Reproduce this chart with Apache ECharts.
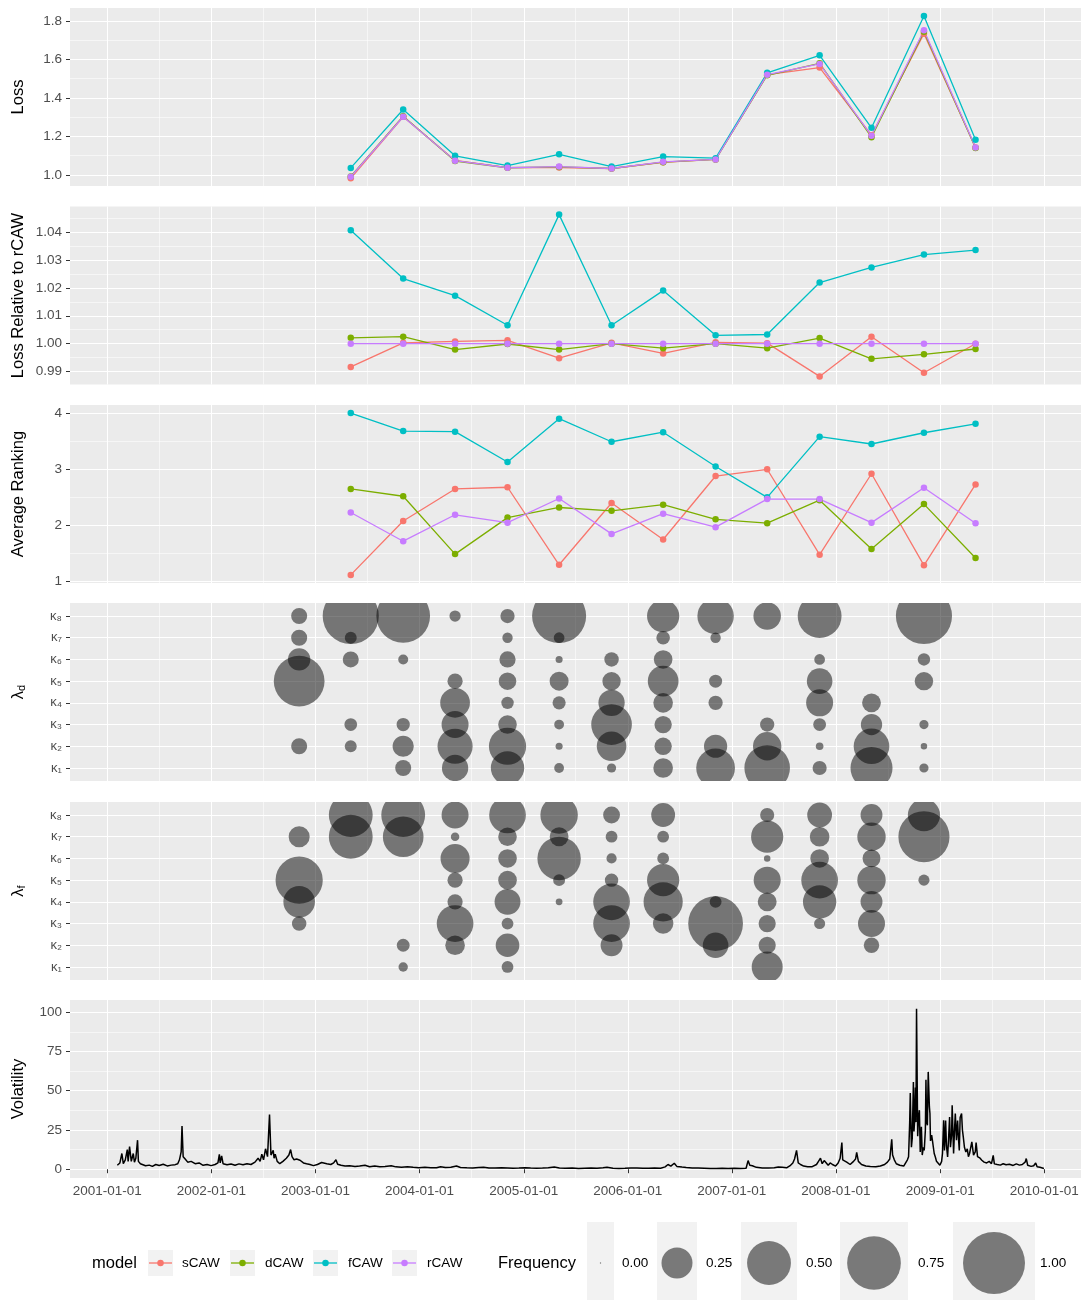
<!DOCTYPE html>
<html>
<head>
<meta charset="utf-8">
<script src="https://cdn.jsdelivr.net/npm/echarts@6.0.0/dist/echarts.min.js"></script>
<style>
html,body{margin:0;padding:0;background:#fff;}
#chart{width:1082px;height:1300px;}
</style>
</head>
<body>
<div id="chart"></div>
<script>
// ---------- data ----------
const models = ['sCAW', 'dCAW', 'fCAW', 'rCAW'];
const modelColors = ['#F8766D', '#7CAE00', '#00BFC4', '#C77CFF'];

// evaluation dates (loss / ranking panels)
const evalDates = ['2003-05-05','2003-11-05','2004-05-05','2004-11-05','2005-05-05','2005-11-05',
  '2006-05-05','2006-11-05','2007-05-05','2007-11-05','2008-05-05','2008-11-05','2009-05-05'];

const lossS = [0.982,1.302,1.075,1.038,1.038,1.033,1.065,1.080,1.521,1.558,1.206,1.734,1.142];
const lossD = [0.992,1.305,1.072,1.037,1.041,1.033,1.066,1.080,1.518,1.580,1.196,1.745,1.140];
const lossF = [1.036,1.340,1.099,1.048,1.107,1.043,1.095,1.087,1.531,1.622,1.245,1.826,1.182];
const lossR = [0.990,1.302,1.074,1.037,1.043,1.033,1.068,1.080,1.521,1.577,1.203,1.752,1.142];

const relS = [0.9917,1.0003,1.0008,1.0012,0.9948,1.0003,0.9965,1.0005,1.0002,0.9883,1.0025,0.9896,1.0000];
const relD = [1.0021,1.0025,0.9979,0.9999,0.9979,1.0000,0.9984,1.0000,0.9984,1.0020,0.9946,0.9962,0.9981];
const relF = [1.0406,1.0233,1.0172,1.0066,1.0462,1.0066,1.0190,1.0030,1.0033,1.0219,1.0273,1.0319,1.0335];
const relR = [1,1,1,1,1,1,1,1,1,1,1,1,1];

const rankS = [1.12,2.08,2.65,2.68,1.30,2.40,1.75,2.88,3.00,1.48,2.92,1.29,2.73];
const rankD = [2.65,2.52,1.49,2.14,2.32,2.26,2.37,2.11,2.04,2.45,1.58,2.38,1.42];
const rankF = [4.00,3.68,3.67,3.13,3.90,3.49,3.66,3.05,2.50,3.58,3.45,3.65,3.81];
const rankR = [2.23,1.72,2.19,2.05,2.48,1.85,2.21,1.97,2.47,2.47,2.05,2.67,2.04];

// dates of the lambda choices
const lambdaDates = ['2002-11-05','2003-05-05','2003-11-05','2004-05-05','2004-11-05','2005-05-05',
  '2005-11-05','2006-05-05','2006-11-05','2007-05-05','2007-11-05','2008-05-05','2008-11-05'];

// frequency per date, kappa1 .. kappa8
const lambdaDFreq = [
  [0,.067,0,0,.67,.13,.067,.067],
  [0,.037,.042,0,0,.067,.037,.82],
  [.067,.117,.046,0,0,.026,0,.75],
  [.18,.32,.19,.23,.06,0,0,.033],
  [.29,.36,.09,.04,.08,.068,.028,.053],
  [.025,.013,.025,.045,.094,.013,.03,.76],
  [.022,.227,.43,.18,.088,.054,0,0],
  [.1,.078,.078,.1,.245,.09,.048,.27],
  [.39,.14,0,.053,.044,0,.028,.345],
  [.54,.21,.053,0,0,0,0,.197],
  [.052,.015,.043,.19,.17,.03,0,.5],
  [.46,.33,.118,.092,0,0,0,0],
  [.022,.011,.022,0,.088,.04,0,.82]
];
const lambdaFFreq = [
  [0,0,.055,.26,.58,0,.115,0],
  [0,0,0,0,0,0,.5,.5],
  [.023,.043,0,0,0,0,.43,.5],
  [0,.1,.35,.06,.06,.22,.019,.19],
  [.036,.145,.036,.175,.09,.09,.09,.35],
  [0,0,0,.012,.037,.49,.092,.365],
  [0,.125,.35,.35,.047,.027,.036,.074],
  [0,0,.109,.4,.27,.036,.036,.148],
  [0,.17,.78,.037,0,0,0,0],
  [.25,.077,.077,.093,.19,.011,.27,.052],
  [0,0,.032,.29,.35,.09,.1,.16],
  [0,.062,.19,.125,.21,.083,.21,.125],
  [0,0,0,0,.032,0,.68,.27]
];
const kappaLabels = ['κ₁','κ₂','κ₃','κ₄','κ₅','κ₆','κ₇','κ₈'];

const volatility = [
['2001-02-05',2.5],['2001-02-14',4],['2001-02-21',10],['2001-02-26',3.5],['2001-03-05',6],['2001-03-12',12.5],
['2001-03-15',5],['2001-03-20',14.4],['2001-03-26',5],['2001-04-02',10],['2001-04-06',4.5],['2001-04-11',7],
['2001-04-17',18.5],['2001-04-20',5],['2001-04-27',3.5],['2001-05-03',2.8],['2001-05-15',2.2],['2001-05-28',2.6],
['2001-06-08',1.8],['2001-06-20',3],['2001-07-02',2.4],['2001-07-16',3.2],['2001-07-30',2.1],['2001-08-13',2.6],
['2001-08-27',2.9],['2001-09-05',3.5],['2001-09-11',6],['2001-09-17',11],['2001-09-20',27.5],['2001-09-24',8],
['2001-10-01',6.5],['2001-10-10',4.5],['2001-10-22',5],['2001-11-05',3.5],['2001-11-19',4],['2001-12-03',2.5],
['2001-12-17',3],['2001-12-31',2.3],
['2002-01-14',3],['2002-01-24',4],['2002-01-29',9.5],['2002-02-01',4],['2002-02-06',8.5],['2002-02-11',3.5],
['2002-02-25',2.8],['2002-03-11',3.3],['2002-03-25',2.5],['2002-04-08',3.4],['2002-04-22',2.8],['2002-05-06',3.5],
['2002-05-20',3],['2002-06-03',4.5],['2002-06-14',7],['2002-06-21',5],['2002-06-27',9.5],['2002-07-03',6],
['2002-07-10',13],['2002-07-17',8],['2002-07-24',34.8],['2002-07-29',9],['2002-07-31',8.5],['2002-08-06',12],
['2002-08-09',7],['2002-08-13',9.5],['2002-08-20',5],['2002-08-29',3.5],['2002-09-09',5],['2002-09-21',7],
['2002-09-30',9],['2002-10-06',12.5],['2002-10-11',8],['2002-10-18',6],['2002-10-27',6.5],['2002-11-08',5.7],
['2002-11-20',4],['2002-12-01',3.5],['2002-12-13',3],['2002-12-25',2.3],
['2003-01-08',3],['2003-01-23',4.3],['2003-02-10',3.5],['2003-02-24',3],['2003-03-06',4],['2003-03-14',6],
['2003-03-20',3.2],['2003-04-01',2.5],['2003-04-15',2],['2003-05-01',2.2],['2003-05-20',1.8],['2003-06-05',2],
['2003-06-24',2.5],['2003-07-10',1.6],['2003-07-28',2],['2003-08-15',1.5],['2003-09-02',1.8],['2003-09-24',2.2],
['2003-10-10',1.5],['2003-10-30',1.3],['2003-11-20',1.6],['2003-12-10',1.2],['2003-12-30',1.0],
['2004-01-20',1.2],['2004-02-10',1.0],['2004-03-01',0.9],['2004-03-15',1.6],['2004-04-01',1.1],['2004-04-20',1.3],
['2004-05-10',2],['2004-05-24',1.1],['2004-06-15',0.9],['2004-07-06',0.8],['2004-07-27',1.1],['2004-08-13',1.3],
['2004-09-01',0.7],['2004-09-22',0.8],['2004-10-15',1.0],['2004-11-05',0.8],['2004-11-25',0.6],['2004-12-15',0.7],
['2005-01-05',1.0],['2005-01-25',0.8],['2005-02-15',0.6],['2005-03-08',0.8],['2005-03-28',1.0],['2005-04-18',1.4],
['2005-05-06',0.8],['2005-05-27',0.6],['2005-06-20',0.7],['2005-07-12',0.5],['2005-08-03',0.6],['2005-08-25',0.7],
['2005-09-15',0.6],['2005-10-06',0.9],['2005-10-20',1.2],['2005-11-10',0.6],['2005-12-01',0.5],['2005-12-22',0.6],
['2006-01-12',0.8],['2006-02-02',0.7],['2006-02-23',0.6],['2006-03-15',0.6],['2006-04-05',0.7],['2006-04-26',0.6],
['2006-05-12',1.5],['2006-05-22',3],['2006-06-01',2],['2006-06-13',3.8],['2006-06-22',1.8],['2006-07-10',1.4],
['2006-07-25',1.1],['2006-08-15',0.8],['2006-09-05',0.7],['2006-09-26',0.6],['2006-10-17',0.5],['2006-11-07',0.5],
['2006-11-28',0.6],['2006-12-19',0.5],
['2007-01-10',0.6],['2007-01-31',0.5],['2007-02-20',0.6],['2007-02-27',5.5],['2007-03-05',2.5],['2007-03-14',2.2],
['2007-03-28',1.2],['2007-04-18',0.8],['2007-05-09',0.8],['2007-05-30',0.9],['2007-06-13',1.4],['2007-06-27',1.2],
['2007-07-12',0.9],['2007-07-26',2.5],['2007-08-03',4],['2007-08-09',6.5],['2007-08-16',12],['2007-08-22',4],
['2007-08-30',3],['2007-09-10',2],['2007-09-24',1.5],['2007-10-10',1.6],['2007-10-25',3],['2007-11-01',5],
['2007-11-08',7],['2007-11-14',3.5],['2007-11-21',5.5],['2007-11-28',4.5],['2007-12-05',2.5],['2007-12-12',4],
['2007-12-20',3],['2007-12-31',2],
['2008-01-09',4],['2008-01-16',7],['2008-01-22',17],['2008-01-25',6],['2008-02-01',5],['2008-02-08',4.5],
['2008-02-20',3],['2008-03-03',5],['2008-03-10',6.5],['2008-03-14',10.7],['2008-03-20',5],['2008-03-31',3],
['2008-04-15',2],['2008-05-01',1.7],['2008-05-20',1.5],['2008-06-05',2],['2008-06-20',3],['2008-06-30',4.5],
['2008-07-08',6.5],['2008-07-15',19],['2008-07-18',9],['2008-07-24',6],['2008-07-31',3.5],['2008-08-12',2.5],
['2008-08-26',2],['2008-09-02',3],['2008-09-08',6],['2008-09-12',8],['2008-09-16',30],['2008-09-18',48.6],
['2008-09-22',14],['2008-09-25',20],['2008-09-29',55.6],['2008-10-01',24],['2008-10-03',30],['2008-10-06',52],
['2008-10-08',30],['2008-10-10',102.3],['2008-10-14',21],['2008-10-17',33],['2008-10-20',37.6],['2008-10-23',11],
['2008-10-27',27],['2008-10-30',9],['2008-11-03',14],['2008-11-06',12],['2008-11-10',25],['2008-11-12',57],
['2008-11-14',31],['2008-11-17',28],['2008-11-20',62],['2008-11-24',40],['2008-11-26',35.5],['2008-11-28',18],
['2008-12-02',21.7],['2008-12-05',18],['2008-12-08',14],['2008-12-11',10],['2008-12-15',7.8],['2008-12-19',5],
['2008-12-24',4.6],['2008-12-31',2.5],
['2009-01-06',5],['2009-01-09',10],['2009-01-13',31.2],['2009-01-16',12],['2009-01-20',31],['2009-01-23',15],
['2009-01-27',7.8],['2009-01-30',18],['2009-02-03',33.3],['2009-02-06',14],['2009-02-10',22],['2009-02-12',40.8],
['2009-02-17',10],['2009-02-20',24],['2009-02-23',35.5],['2009-02-27',18.5],['2009-03-03',31],['2009-03-06',20],
['2009-03-09',12],['2009-03-12',33],['2009-03-17',35.5],['2009-03-20',25],['2009-03-23',20.6],['2009-03-27',14],
['2009-04-01',11],['2009-04-06',13],['2009-04-10',8],['2009-04-14',10],['2009-04-22',17.4],['2009-04-28',9],
['2009-05-04',11],['2009-05-07',17],['2009-05-12',8],['2009-05-15',6.8],['2009-05-21',7],['2009-05-27',5.7],
['2009-06-04',4.5],['2009-06-13',4],['2009-06-22',5],['2009-06-30',3.5],['2009-07-06',8.8],['2009-07-10',3.4],
['2009-07-20',3],['2009-07-31',2.6],['2009-08-10',3.5],['2009-08-20',2.8],['2009-09-01',3.2],['2009-09-14',2.4],
['2009-09-25',3.4],['2009-10-06',2.6],['2009-10-16',3],['2009-10-26',4.5],['2009-10-30',6.8],['2009-11-04',2.5],
['2009-11-16',1.8],['2009-11-25',2.2],['2009-12-02',4],['2009-12-07',1.5],['2009-12-17',1.2],['2009-12-31',0.5]
];

// axis breaks
const yearTicks = ['2001-01-01','2002-01-01','2003-01-01','2004-01-01','2005-01-01',
  '2006-01-01','2007-01-01','2008-01-01','2009-01-01','2010-01-01'];
const midYearTicks = ['2001-07-02','2002-07-02','2003-07-02','2004-07-02','2005-07-02',
  '2006-07-02','2007-07-02','2008-07-02','2009-07-02'];
const lossTicks = [1.0, 1.2, 1.4, 1.6, 1.8];
const lossMinor = [1.1, 1.3, 1.5, 1.7];
const relTicks = [0.99, 1.00, 1.01, 1.02, 1.03, 1.04];
const relMinor = [0.995, 1.005, 1.015, 1.025, 1.035, 1.045];
const rankTicks = [1, 2, 3, 4];
const rankMinor = [1.5, 2.5, 3.5];
const kappaTicks = [1, 2, 3, 4, 5, 6, 7, 8];
const volTicks = [0, 25, 50, 75, 100];
const volMinor = [12.5, 37.5, 62.5, 87.5];
const freqLegend = [0, 0.25, 0.5, 0.75, 1];

// ---------- helpers ----------
const FONT = '"Liberation Sans", Arial, Helvetica, sans-serif';
function t(d) {
  const p = d.split('-').map(Number);
  return new Date(p[0], p[1] - 1, p[2]).getTime();
}
function pad(n) { return n < 10 ? '0' + n : '' + n; }
function fmtDate(v) {
  const d = new Date(v);
  return d.getFullYear() + '-' + pad(d.getMonth() + 1) + '-' + pad(d.getDate());
}
function bubbleSize(f) { return 62 * Math.sqrt(f); }

const xMin = t('2000-08-23'), xMax = t('2010-05-10');
const PANEL_H = 178;

const panels = [
  { top: 8, min: 0.942, max: 1.868, ticks: lossTicks, minor: lossMinor, fmt: v => v.toFixed(1), name: 'Loss' },
  { top: 206.5, min: 0.9854, max: 1.0491, ticks: relTicks, minor: relMinor, fmt: v => v.toFixed(2), name: 'Loss Relative to rCAW' },
  { top: 405, min: 0.976, max: 4.144, ticks: rankTicks, minor: rankMinor, fmt: v => String(v), name: 'Average Ranking' },
  { top: 603, min: 0.4, max: 8.6, ticks: kappaTicks, minor: null, fmt: v => kappaLabels[Math.round(v) - 1], name: '{l|λ}{s|d}' },
  { top: 802, min: 0.4, max: 8.6, ticks: kappaTicks, minor: null, fmt: v => kappaLabels[Math.round(v) - 1], name: '{l|λ}{s|f}' },
  { top: 1000, min: -5.6, max: 107.8, ticks: volTicks, minor: volMinor, fmt: v => String(v), name: 'Volatility' }
];

const grids = [], xAxes = [], yAxes = [], series = [];
const xIdx = [], yIdx = [];

panels.forEach((p, i) => {
  const last = i === panels.length - 1;
  grids.push({
    left: 70, right: 1, top: p.top, height: PANEL_H,
    show: true, backgroundColor: '#EBEBEB', borderWidth: 0, outerBoundsMode: 'none'
  });

  // dates on a value axis (milliseconds), major = 1 Jan, minor = mid-year
  xIdx.push(xAxes.length);
  xAxes.push({
    type: 'value', gridIndex: i, min: xMin, max: xMax, scale: true,
    axisLine: { show: false },
    axisTick: { show: last, length: 4, lineStyle: { color: '#333333', width: 1 }, customValues: yearTicks.map(t) },
    axisLabel: {
      show: last, customValues: yearTicks.map(t), formatter: v => fmtDate(v),
      color: '#4D4D4D', fontSize: 13.5, fontFamily: FONT, margin: 6
    },
    splitLine: { show: true, lineStyle: { color: '#FFFFFF', width: 1.1 } }
  });
  xAxes.push({
    type: 'value', gridIndex: i, min: xMin, max: xMax, scale: true,
    axisLine: { show: false },
    axisTick: { show: false, customValues: midYearTicks.map(t) },
    axisLabel: { show: false, customValues: midYearTicks.map(t) },
    splitLine: { show: true, lineStyle: { color: '#FFFFFF', width: 0.55 } }
  });

  yIdx.push(yAxes.length);
  yAxes.push({
    type: 'value', gridIndex: i, min: p.min, max: p.max, position: 'left', scale: true,
    axisLine: { show: false },
    axisTick: { show: true, length: 4, lineStyle: { color: '#333333', width: 1 }, customValues: p.ticks },
    axisLabel: {
      customValues: p.ticks, formatter: p.fmt,
      color: '#4D4D4D', fontSize: i === 3 || i === 4 ? 13 : 13.5, fontFamily: FONT, margin: 8
    },
    splitLine: { show: true, lineStyle: { color: '#FFFFFF', width: 1.1 } },
    name: p.name, nameLocation: 'middle', nameRotate: 90, nameGap: 43, nameMoveOverlap: false,
    nameTextStyle: {
      color: '#000', fontSize: 16.5, fontFamily: FONT,
      rich: {
        l: { fontSize: 16.5, lineHeight: 18, fontFamily: FONT, color: '#000' },
        s: { fontSize: 11, lineHeight: 11, verticalAlign: 'bottom', fontFamily: FONT, color: '#000' }
      }
    }
  });
  if (p.minor) {
    yAxes.push({
      type: 'value', gridIndex: i, min: p.min, max: p.max, position: 'left', scale: true,
      axisLine: { show: false },
      axisTick: { show: false, customValues: p.minor },
      axisLabel: { show: false, customValues: p.minor },
      splitLine: { show: true, lineStyle: { color: '#FFFFFF', width: 0.55 } }
    });
  }
});

// line panels: lines first, points on top
const lineSets = [
  [lossS, lossD, lossF, lossR],
  [relS, relD, relF, relR],
  [rankS, rankD, rankF, rankR]
];
lineSets.forEach((set, pi) => {
  set.forEach((vals, mi) => {
    series.push({
      name: models[mi], type: 'line', xAxisIndex: xIdx[pi], yAxisIndex: yIdx[pi],
      data: evalDates.map((d, j) => [t(d), vals[j]]),
      showSymbol: false, lineStyle: { color: modelColors[mi], width: 1.3 }, z: 3
    });
  });
  set.forEach((vals, mi) => {
    series.push({
      name: models[mi], type: 'scatter', xAxisIndex: xIdx[pi], yAxisIndex: yIdx[pi],
      data: evalDates.map((d, j) => [t(d), vals[j]]),
      symbol: 'circle', symbolSize: 6.5, itemStyle: { color: modelColors[mi], opacity: 1 }, z: 4
    });
  });
});

// bubble panels
function bubbleData(freqs) {
  const out = [];
  lambdaDates.forEach((d, j) => {
    freqs[j].forEach((f, k) => { if (f > 0) out.push([t(d), k + 1, f]); });
  });
  return out;
}
[lambdaDFreq, lambdaFFreq].forEach((freqs, n) => {
  const pi = 3 + n;
  series.push({
    type: 'custom', xAxisIndex: xIdx[pi], yAxisIndex: yIdx[pi], clip: true, z: 3,
    data: bubbleData(freqs),
    encode: { x: 0, y: 1 },
    renderItem: function (params, api) {
      const c = api.coord([api.value(0), api.value(1)]);
      return {
        type: 'circle',
        shape: { cx: c[0], cy: c[1], r: bubbleSize(api.value(2)) / 2 },
        style: { fill: 'rgba(0,0,0,0.5)' }
      };
    }
  });
});

// volatility
series.push({
  type: 'line', xAxisIndex: xIdx[5], yAxisIndex: yIdx[5],
  data: volatility.map(v => [t(v[0]), v[1]]),
  showSymbol: false, lineStyle: { color: '#000000', width: 1.5 }, z: 3
});

// ---------- legend (drawn as graphic, ggplot style) ----------
const LY = 1263;
const graphics = [];
function txt(s, x, size) {
  return {
    type: 'text', z: 10,
    style: { text: s, x: x, y: LY, font: size + 'px ' + FONT, fill: '#000',
      textAlign: 'left', textVerticalAlign: 'middle', align: 'left', verticalAlign: 'middle' }
  };
}
graphics.push(txt('model', 92, 16.5));
const modelKeyX = [148, 230, 313, 392];
const modelLabelX = [182, 265, 348, 427];
models.forEach((m, i) => {
  const x = modelKeyX[i];
  graphics.push({ type: 'rect', z: 10, shape: { x: x, y: LY - 13, width: 25, height: 26 }, style: { fill: '#F2F2F2' } });
  graphics.push({ type: 'line', z: 11, shape: { x1: x + 1, y1: LY, x2: x + 24, y2: LY }, style: { stroke: modelColors[i], lineWidth: 1.3 } });
  graphics.push({ type: 'circle', z: 12, shape: { cx: x + 12.5, cy: LY, r: 3.25 }, style: { fill: modelColors[i] } });
  graphics.push(txt(m, modelLabelX[i], 13.5));
});
graphics.push(txt('Frequency', 498, 16.5));
const freqKeyX = [587, 657, 741, 840, 953];
const freqKeyW = [27, 40, 56, 68, 82];
const freqLabelX = [622, 706, 806, 918, 1040];
freqLegend.forEach((f, i) => {
  const x = freqKeyX[i], w = freqKeyW[i];
  graphics.push({ type: 'rect', z: 10, shape: { x: x, y: LY - 41, width: w, height: 82 }, style: { fill: '#F2F2F2' } });
  graphics.push({ type: 'circle', z: 11, shape: { cx: x + w / 2, cy: LY, r: Math.max(0.7, bubbleSize(f) / 2) }, style: { fill: 'rgba(0,0,0,0.5)' } });
  graphics.push(txt(f.toFixed(2), freqLabelX[i], 13.5));
});

const chart = echarts.init(document.getElementById('chart'), null, { renderer: 'canvas' });
chart.setOption({
  animation: false,
  backgroundColor: '#FFFFFF',
  grid: grids,
  xAxis: xAxes,
  yAxis: yAxes,
  series: series,
  graphic: graphics
});
window.addEventListener('resize', () => chart.resize());
</script>
</body>
</html>
